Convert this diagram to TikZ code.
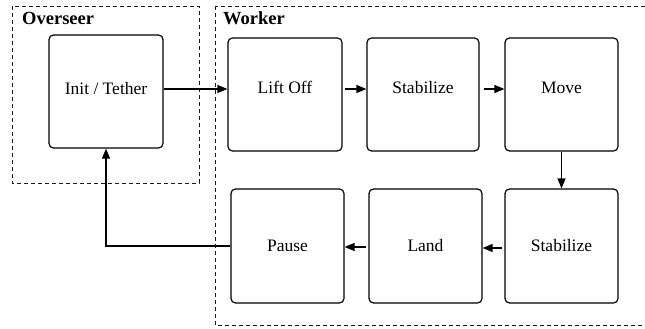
\documentclass[tikz,border=0pt]{standalone}
\usepackage{fontspec}
\setmainfont{Liberation Serif}
\usetikzlibrary{arrows.meta}
\tikzset{
  group/.style={draw, dashed, line width=0.8pt, dash pattern=on 4pt off 3pt, gray!20!black},
  grouptitle/.style={anchor=base west, inner sep=0pt, font=\fontsize{18.5}{20}\selectfont\bfseries},
  statefont/.style={font=\fontsize{17.5}{20}\selectfont},
  state/.style={draw, line width=1.2pt, rounded corners=4.5pt, inner sep=0pt, statefont},
  flow/.style={line width=1.2pt, -{Triangle[length=10pt,width=8pt]}}
}
\begin{document}
\begin{tikzpicture}[x=1pt,y=-1pt]
  \useasboundingbox (0,0) rectangle (645,329);
  \fill[white] (0,0) rectangle (645,329);

  % group frames
  \draw[group] (12,6) rectangle (199,183);
  \draw[group] (215,6) rectangle (650,325);
  \node[grouptitle] (tover) at (22,25) {Overseer};
  \node[grouptitle] (twork) at (223,25) {Worker};

  % states of the upper row, captions raised above centre
  \node[state, minimum width=114pt, minimum height=113pt,
        label={[statefont, yshift=3pt]center:Init / Tether}]
        (init) at (106,91.5) {};
  \node[state, minimum width=114pt, minimum height=113pt,
        label={[statefont, yshift=7pt]center:Lift Off}]
        (lift) at (285,94.5) {};
  \node[state, minimum width=112pt, minimum height=113pt,
        label={[statefont, yshift=7pt]center:Stabilize}]
        (stabA) at (423,94.5) {};
  \node[state, minimum width=113pt, minimum height=113pt,
        label={[statefont, yshift=7pt]center:Move}]
        (move) at (561.5,94.5) {};
  % states of the lower row
  \node[state, minimum width=113pt, minimum height=114pt] (stabB) at (561.5,246) {Stabilize};
  \node[state, minimum width=113pt, minimum height=114pt] (land) at (425.5,246) {Land};
  \node[state, minimum width=113pt, minimum height=114pt] (pause) at (287.5,246) {Pause};

  % transitions
  \draw[flow] ([yshift=2.5pt]init.east) -- ([yshift=5.5pt]lift.west);
  \draw[flow, shorten <=2pt] ([yshift=5.5pt]lift.east) -- ([yshift=5.5pt]stabA.west);
  \draw[flow, shorten <=4pt] ([yshift=5.5pt]stabA.east) -- ([yshift=5.5pt]move.west);
  \draw[flow] (move.south) -- (stabB.north);
  \draw[flow, shorten <=2pt] ([yshift=-2pt]stabB.west) -- ([yshift=-2pt]land.east);
  \draw[flow, shorten <=2pt] ([yshift=-1pt]land.west) -- ([yshift=-1pt]pause.east);
  \draw[flow] (pause.west) -| (init.south);
\end{tikzpicture}
\end{document}
